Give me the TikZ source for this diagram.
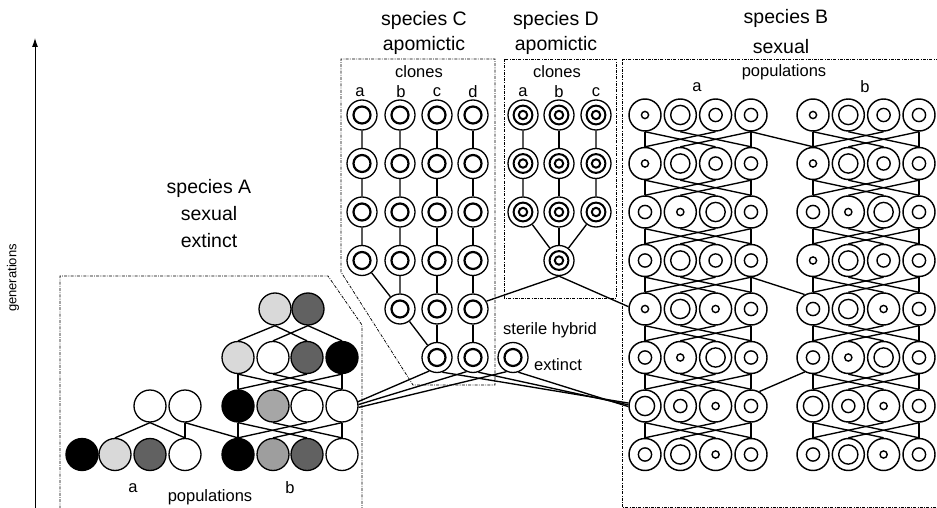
\documentclass[tikz,border=0pt]{standalone}
\usepackage{fontspec}
\setmainfont{Liberation Sans}
\usetikzlibrary{arrows.meta}
\newcommand{\ringrow}[7]{%
  \node[ring#4] (#1-1) at (#2,#3) {};
  \node[ring#5] (#1-2) at ({#2+35.3},#3) {};
  \node[ring#6] (#1-3) at ({#2+70.6},#3) {};
  \node[ring#7] (#1-4) at ({#2+106},#3) {};
}
\newcommand{\crosslinks}[2]{%
  \draw[link] (#1-1.south) -- (#2-1.north);
  \draw[link] (#1-4.south) -- (#2-4.north);
  \draw[link] (#1-1.south) -- (#2-3.north);
  \draw[link] (#1-2.south) -- (#2-4.north);
  \draw[link] (#1-3.south) -- (#2-1.north);
  \draw[link] (#1-4.south) -- (#2-2.north);
}
\begin{document}
\begin{tikzpicture}[x=1pt,y=-1pt,
  big/.style={font=\fontsize{19.5}{22}\selectfont, inner sep=0pt},
  small/.style={font=\fontsize{16.5}{19}\selectfont, inner sep=0pt},
  box/.style={line width=0.75pt, dash pattern=on 3pt off 1.3pt on 0.8pt off 1.3pt},
  link/.style={line width=1.35pt},
  ringO/.style={circle, draw, fill=white, minimum size=32pt, inner sep=0pt, line width=1.45pt},
  ringS/.style={ringO, path picture={\draw[line width=1.4pt] (path picture bounding box.center) circle (3.6pt);}},
  ringM/.style={ringO, path picture={\draw[line width=1.4pt] (path picture bounding box.center) circle (6.6pt);}},
  ringL/.style={ringO, path picture={\draw[line width=1.4pt] (path picture bounding box.center) circle (9.6pt);}},
  disc/.style={circle, draw, minimum size=32pt, inner sep=0pt, line width=1.3pt},
  clone/.style={circle, draw, fill=white, minimum size=30pt, inner sep=0pt, line width=1.3pt,
    path picture={\draw[line width=2.2pt] (path picture bounding box.center) circle (8.5pt);}},
  clonetwo/.style={circle, draw, fill=white, minimum size=30pt, inner sep=0pt, line width=1.3pt,
    path picture={\draw[line width=2pt] (path picture bounding box.center) circle (9.4pt);
                  \draw[line width=2pt] (path picture bounding box.center) circle (4.2pt);}}
]
\useasboundingbox (0,0) rectangle (937,508);

% ---------- axis ----------
\coordinate (axb) at (35,510);
\coordinate (axt) at (35,38);
\draw[line width=0.9pt, -{Latex[length=9pt,width=6pt]}] (axb) -- (axt);
\node[rotate=90, font=\fontsize{13}{15}\selectfont, inner sep=0pt] (gen) at (13,278) {generations};

% ---------- boxes ----------
\draw[box] (60,515) -- (60,276) -- (328,276) -- (362,325) -- (362,515);
\draw[box] (341,272) -- (341,59) -- (495,59) -- (495,385) -- (413,385) -- cycle;
\draw[box] (504,59) rectangle (616,298);
\draw[box] (945,59) -- (622,59) -- (622,507) -- (945,507);

% ---------- titles ----------
\node[big] (tA1) at (209,188) {species A};
\node[big] (tA2) at (209,214) {sexual};
\node[big] (tA3) at (209,241) {extinct};
\node[big] (tC1) at (424,20) {species C};
\node[big] (tC2) at (424,45) {apomictic};
\node[big] (tD1) at (556,20) {species D};
\node[big] (tD2) at (556,45) {apomictic};
\node[big] (tB1) at (786,18) {species B};
\node[big] (tB2) at (781,47) {sexual};

% ---------- species A ----------
\node[disc, fill=black!15] (A5b2) at (275,309) {};
\node[disc, fill=black!62] (A5b3) at (308,309) {};
\node[disc, fill=black!15] (A6b-1) at (238,357.5) {};
\node[disc, fill=white]    (A6b-2) at (273,357.5) {};
\node[disc, fill=black!62] (A6b-3) at (307,357.5) {};
\node[disc, fill=black]    (A6b-4) at (342,357.5) {};
\node[disc, fill=white]    (A7a3) at (150,406) {};
\node[disc, fill=white]    (A7a4) at (185,406) {};
\node[disc, fill=black]    (A7b-1) at (238,406) {};
\node[disc, fill=black!35] (A7b-2) at (273,406) {};
\node[disc, fill=white]    (A7b-3) at (307,406) {};
\node[disc, fill=white]    (A7b-4) at (342,406) {};
\node[disc, fill=black]    (A8a1) at (82,454.5) {};
\node[disc, fill=black!15] (A8a2) at (115,454.5) {};
\node[disc, fill=black!62] (A8a3) at (150,454.5) {};
\node[disc, fill=white]    (A8a4) at (185,454.5) {};
\node[disc, fill=black]    (A8b-1) at (238,454.5) {};
\node[disc, fill=black!38] (A8b-2) at (273,454.5) {};
\node[disc, fill=black!62] (A8b-3) at (307,454.5) {};
\node[disc, fill=white]    (A8b-4) at (342,454.5) {};
\node[small] (Alab) at (133,488) {a};
\node[small] (Blab) at (290,488) {b};
\node[small] (Apop) at (210,497) {populations};

\draw[link] (A5b2.south) -- (A6b-1.north);
\draw[link] (A5b2.south) -- (A6b-3.north);
\draw[link] (A5b3.south) -- (A6b-2.north);
\draw[link] (A5b3.south) -- (A6b-4.north);
\crosslinks{A6b}{A7b}
\crosslinks{A7b}{A8b}
\draw[link] (A7a3.south) -- (A8a2.north);
\draw[link] (A7a3.south) -- (A8a4.north);
\draw[link] (A7a4.south) -- (A8a4.north);
\draw[link] (A7a4.south) -- (A8b-1.north);

% ---------- species C ----------
\node[small] (Cclones) at (419,72) {clones};
\node[small] (Cla) at (360,92) {a};
\node[small] (Clb) at (401,92) {b};
\node[small] (Clc) at (437,92) {c};
\node[small] (Cld) at (473,92) {d};
\foreach \k/\y in {1/115,2/163.5,3/212,4/260.5}{
  \node[clone] (Ca\k) at (362,\y) {};
}
\foreach \k/\y in {1/115,2/163.5,3/212,4/260.5,5/309}{
  \node[clone] (Cb\k) at (400,\y) {};
}
\foreach \k/\y in {1/115,2/163.5,3/212,4/260.5,5/309,6/357.5}{
  \node[clone] (Cc\k) at (437,\y) {};
  \node[clone] (Cd\k) at (473,\y) {};
}
\node[clone] (S) at (513,357.5) {};
\node[small] (sterile) at (550,330) {sterile hybrid};
\node[small] (ext) at (558,365) {extinct};
\draw[link] (Ca1) -- (Ca2) -- (Ca3) -- (Ca4) -- (Cb5);
\draw[link] (Cb1) -- (Cb2) -- (Cb3) -- (Cb4) -- (Cb5) -- (Cc6);
\draw[link] (Cc1) -- (Cc2) -- (Cc3) -- (Cc4) -- (Cc5) -- (Cc6);
\draw[link] (Cd1) -- (Cd2) -- (Cd3) -- (Cd4) -- (Cd5) -- (Cd6);

% ---------- species D ----------
\node[small] (Dclones) at (557,72) {clones};
\node[small] (Dla) at (523,92) {a};
\node[small] (Dlb) at (559,92) {b};
\node[small] (Dlc) at (596,92) {c};
\foreach \k/\y in {1/115,2/163.5,3/212}{
  \node[clonetwo] (Da\k) at (523,\y) {};
  \node[clonetwo] (Db\k) at (559,\y) {};
  \node[clonetwo] (Dc\k) at (596,\y) {};
}
\node[clonetwo] (Dbot) at (559,260.5) {};
\draw[link] (Da1) -- (Da2) -- (Da3) -- (Dbot);
\draw[link] (Db1) -- (Db2) -- (Db3) -- (Dbot);
\draw[link] (Dc1) -- (Dc2) -- (Dc3) -- (Dbot);

% ---------- species B ----------
\node[small] (Bpop) at (784,72) {populations};
\node[small] (Bla) at (697,87) {a};
\node[small] (Blb) at (865,87) {b};
\ringrow{Ba1}{645}{115}{S}{L}{M}{M}
\ringrow{Ba2}{645}{163.5}{S}{L}{M}{M}
\ringrow{Ba3}{645}{212}{M}{S}{L}{M}
\ringrow{Ba4}{645}{260.5}{M}{L}{M}{M}
\ringrow{Ba5}{645}{309}{S}{L}{S}{M}
\ringrow{Ba6}{645}{357.5}{M}{S}{L}{M}
\ringrow{Ba7}{645}{406}{L}{M}{S}{M}
\ringrow{Ba8}{645}{454.5}{M}{L}{S}{M}
\ringrow{Bb1}{813}{115}{S}{L}{M}{M}
\ringrow{Bb2}{813}{163.5}{S}{L}{M}{M}
\ringrow{Bb3}{813}{212}{M}{S}{L}{M}
\ringrow{Bb4}{813}{260.5}{S}{L}{M}{M}
\ringrow{Bb5}{813}{309}{M}{L}{S}{M}
\ringrow{Bb6}{813}{357.5}{M}{S}{L}{M}
\ringrow{Bb7}{813}{406}{L}{M}{S}{M}
\ringrow{Bb8}{813}{454.5}{M}{L}{S}{M}
\foreach \u/\l in {1/2,2/3,3/4,4/5,5/6,6/7,7/8}{
  \crosslinks{Ba\u}{Ba\l}
  \crosslinks{Bb\u}{Bb\l}
}
\draw[link] (Ba1-4.south) -- (Bb2-1.north);
\draw[link] (Ba4-4.south) -- (Bb5-1.120);
\draw[link] (Bb6-1.240) -- (Ba7-4.60);

% ---------- hybrid origins ----------
\draw[link] (Cd5.30) -- (Dbot.south);
\draw[link] (Dbot.south) -- (Ba5-1.172);
\draw[link] (A7b-4.15) -- (Cc6.240);
\draw[link] (A7b-4.5) -- (Cd6.245);
\draw[link] (A7b-4.-5) -- (S.245);
\draw[link] (Cc6.290) -- (Ba7-1.170);
\draw[link] (Cd6.290) -- (Ba7-1.176);
\draw[link] (S.290) -- (Ba7-1.182);
\end{tikzpicture}
\end{document}
